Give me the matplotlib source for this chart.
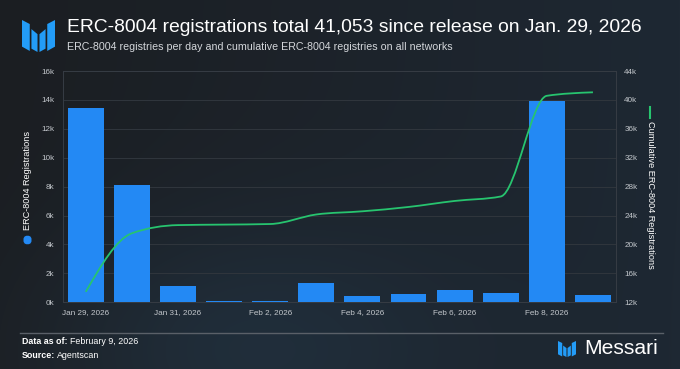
import numpy as np
import matplotlib
matplotlib.use("Agg")
import matplotlib.pyplot as plt
from matplotlib.path import Path
from matplotlib.patches import PathPatch, Polygon, FancyBboxPatch
from matplotlib.ticker import FuncFormatter, MultipleLocator

# data
dates = ['Jan 29, 2026', 'Jan 30, 2026', 'Jan 31, 2026', 'Feb 1, 2026',
         'Feb 2, 2026', 'Feb 3, 2026', 'Feb 4, 2026', 'Feb 5, 2026',
         'Feb 6, 2026', 'Feb 7, 2026', 'Feb 8, 2026', 'Feb 9, 2026']
daily = [13450, 8100, 1130, 70, 80, 1320, 440, 600, 830, 620, 13930, 483]
cumulative = np.cumsum(daily)

W, H = 680, 369
BLUE = '#2389f4'
GREEN = '#27c46f'
TICK = '#c3c7cc'
FONT = 'Liberation Sans'

plt.rcParams['font.family'] = [FONT, 'DejaVu Sans']


def fx(px):
    return px / W


def fy(py):
    return 1 - py / H


def monotone_path(x, y):
    # cubic bezier path through points, monotone-x style smoothing
    x = np.asarray(x, float)
    y = np.asarray(y, float)
    n = len(x)
    h = np.diff(x)
    s = np.diff(y) / h
    t = np.zeros(n)
    for i in range(1, n - 1):
        p = (s[i - 1] * h[i] + s[i] * h[i - 1]) / (h[i - 1] + h[i])
        t[i] = (np.sign(s[i - 1]) + np.sign(s[i])) * min(abs(s[i - 1]), abs(s[i]), 0.5 * abs(p))
    t[0] = (3 * s[0] - t[1]) / 2
    t[-1] = (3 * s[-1] - t[-2]) / 2
    verts = [(x[0], y[0])]
    codes = [Path.MOVETO]
    for i in range(n - 1):
        dx = h[i] / 3
        verts += [(x[i] + dx, y[i] + dx * t[i]),
                  (x[i + 1] - dx, y[i + 1] - dx * t[i + 1]),
                  (x[i + 1], y[i + 1])]
        codes += [Path.CURVE4] * 3
    return Path(verts, codes)


def draw_logo(fig, x0, y0, w, h, color):
    pieces = [
        [(0, 0), (0.235, 0.126), (0.235, 0.968), (0, 0.832)],
        [(0.286, 0.284), (0.47, 0.442), (0.47, 1.0), (0.286, 0.895)],
        [(0.53, 0.442), (0.714, 0.284), (0.714, 0.895), (0.53, 1.0)],
        [(0.765, 0.126), (1, 0), (1, 0.832), (0.765, 0.968)],
    ]
    for pc in pieces:
        pts = [(fx(x0 + u * w), fy(y0 + v * h)) for u, v in pc]
        fig.add_artist(Polygon(pts, closed=True, facecolor=color,
                               edgecolor='none', transform=fig.transFigure))


def label_pair(fig, px, py, bold, rest, size):
    # bold lead-in followed by regular text
    t = fig.text(fx(px), fy(py), bold, color='white', fontsize=size,
                 fontweight='bold', ha='left', va='center')
    r = fig.canvas.get_renderer()
    wpx = t.get_window_extent(renderer=r).width
    fig.text(fx(px + wpx + 2.5), fy(py), rest, color='white', fontsize=size,
             ha='left', va='center')


fig = plt.figure(figsize=(W / 100, H / 100), dpi=100)

# background gradient
bg = fig.add_axes([0, 0, 1, 1], zorder=-10)
gx = np.linspace(0, 1, W)[None, :]
gy = np.linspace(0, 1, H)[:, None]
left_c = np.array([27, 30, 34]) / 255
right_c = np.array([30, 40, 51]) / 255
img = left_c[None, None, :] * (1 - gx[..., None]) + right_c[None, None, :] * gx[..., None]
glow = np.exp(-(((gx - 0.35) / 0.3) ** 2 + ((gy - 0.95) / 0.35) ** 2))
img = img + glow[..., None] * (np.array([4, 12, 18]) / 255)
img = img * np.ones((H, 1, 1))
bg.imshow(np.clip(img, 0, 1), aspect='auto', extent=[0, 1, 0, 1])
bg.axis('off')

ax = fig.add_axes([fx(62.7), fy(302.3), fx(616 - 62.7), (302.3 - 71) / H])
ax.set_facecolor('none')
ax2 = ax.twinx()

x = np.arange(len(dates))
ax.bar(x, daily, width=0.78, color=BLUE, zorder=2)
ax.set_xlim(-0.5, len(dates) - 0.5)
ax.set_ylim(0, 16000)
ax.yaxis.set_major_locator(MultipleLocator(2000))
ax.yaxis.set_major_formatter(FuncFormatter(lambda v, p: f'{v / 1000:.0f}k'))
ax.grid(axis='y', color='#30363d', lw=0.7, zorder=0)
ax.set_axisbelow(True)
ax.set_xticks(x[::2])
ax.set_xticklabels(dates[::2])

ax2.set_ylim(12000, 44000)
ax2.yaxis.set_major_locator(MultipleLocator(4000))
ax2.yaxis.set_major_formatter(FuncFormatter(lambda v, p: f'{v / 1000:.0f}k'))
ax2.add_patch(PathPatch(monotone_path(x, cumulative), facecolor='none',
                        edgecolor=GREEN, lw=1.3, transform=ax2.transData, zorder=3))

for a in (ax, ax2):
    for side, sp in a.spines.items():
        sp.set_color('#363c44')
        sp.set_linewidth(0.7)
    a.tick_params(length=0, labelsize=5.9, colors=TICK)
ax.tick_params(axis='y', pad=6)
ax.tick_params(axis='x', pad=5)
ax2.tick_params(axis='y', pad=6)

# axis titles with legend markers
fig.text(fx(28), fy(180), 'ERC-8004 Registrations', rotation=90, color='white',
         fontsize=6.6, ha='center', va='center')
fig.add_artist(FancyBboxPatch((fx(23.5), fy(245)), fx(8), 10 / H,
                              boxstyle='round,pad=0,rounding_size=0.011',
                              facecolor=BLUE, edgecolor='none',
                              transform=fig.transFigure))
fig.text(fx(650), fy(195), 'Cumulative ERC-8004 Registrations', rotation=-90,
         color='white', fontsize=6.6, ha='center', va='center')
fig.add_artist(plt.Line2D([fx(650), fx(650)], [fy(107), fy(118)], color=GREEN,
                          lw=1.5, transform=fig.transFigure))

# header
draw_logo(fig, 22, 20, 33, 32, '#239cf7')
fig.text(fx(67), fy(28), 'ERC-8004 registrations total 41,053 since release on Jan. 29, 2026',
         color='white', fontsize=13.85, ha='left', va='center')
fig.text(fx(67), fy(47), 'ERC-8004 registries per day and cumulative ERC-8004 registries on all networks',
         color='#d4d7db', fontsize=7.7, ha='left', va='center')

# footer
fig.add_artist(plt.Line2D([fx(20), fx(663)], [fy(333), fy(333)], color='#5a6068',
                          lw=1.0, transform=fig.transFigure))
label_pair(fig, 21.5, 341.5, 'Data as of:', 'February 9, 2026', 6.4)
label_pair(fig, 21.5, 355.5, 'Source:', 'Agentscan', 6.4)
draw_logo(fig, 558, 341, 18, 16, '#239cf7')
fig.text(fx(584), fy(349), 'Messari', color='white', fontsize=15.2,
         ha='left', va='center')

fig.savefig('out.png', dpi=100)
